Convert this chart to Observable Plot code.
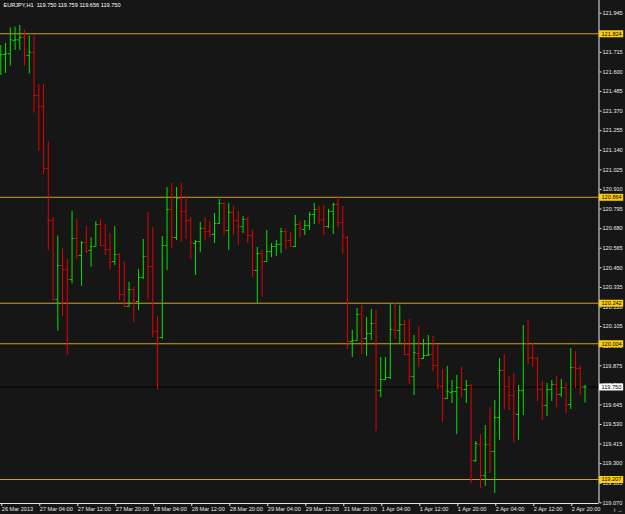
<!DOCTYPE html>
<html>
<head>
<meta charset="utf-8">
<script src="https://cdn.jsdelivr.net/npm/d3@7"></script>
<script src="https://cdn.jsdelivr.net/npm/@observablehq/plot@0.6"></script>
<style>
  html, body { margin: 0; padding: 0; background: #161616; }
  #chart { width: 625px; height: 514px; }
</style>
</head>
<body>
<div id="chart"></div>
<script>
const headerText = "EURJPY,H1  119.750 119.759 119.656 119.750";

const opens = [121.697,121.702,121.707,121.785,121.788,121.802,121.697,121.714,121.462,121.397,
121.033,120.728,120.264,120.463,120.440,120.381,120.622,120.522,120.598,120.552,
120.575,120.704,120.581,120.557,120.487,120.528,120.293,120.223,120.322,120.252,
120.393,120.516,120.457,120.076,120.041,120.581,120.792,120.628,120.857,120.781,
120.728,120.593,120.604,120.681,120.663,120.646,120.710,120.828,120.669,120.775,
120.728,120.692,120.734,120.640,120.434,120.534,120.487,120.546,120.575,120.587,
120.663,120.610,120.575,120.704,120.675,120.698,120.763,120.792,120.734,120.692,
120.781,120.822,120.716,120.628,120.017,120.023,120.176,120.035,120.064,120.123,
119.729,119.794,119.806,120.088,120.082,120.117,119.941,119.812,119.947,119.917,
119.935,119.941,119.876,119.753,119.682,119.718,119.724,119.747,119.735,119.759,
119.318,119.412,119.230,119.412,119.371,119.571,119.847,119.753,119.700,119.589,
119.729,120.005,119.923,119.917,119.735,119.641,119.735,119.765,119.706,119.747,
119.647,119.865,119.859,119.750];

const highs = [121.755,121.767,121.859,121.863,121.873,121.843,121.810,121.810,121.526,121.526,
121.187,120.745,120.636,120.562,120.499,120.782,120.734,120.604,120.694,120.626,
120.720,120.732,120.704,120.650,120.692,120.534,120.481,120.364,120.334,120.440,
120.616,120.775,120.687,120.164,120.634,120.921,120.945,120.921,120.945,120.869,
120.745,120.610,120.716,120.745,120.722,120.769,120.851,120.833,120.828,120.810,
120.781,120.751,120.745,120.669,120.569,120.552,120.669,120.593,120.610,120.681,
120.675,120.657,120.757,120.722,120.728,120.775,120.828,120.810,120.816,120.792,
120.828,120.869,120.810,120.634,120.082,120.211,120.229,120.158,120.205,120.199,
119.923,119.923,120.240,120.240,120.229,120.140,120.146,120.052,120.105,120.029,
120.052,120.047,119.994,119.853,119.870,119.788,119.818,119.865,119.788,119.765,
119.430,119.471,119.524,119.630,119.671,119.917,119.941,119.812,119.829,119.759,
120.111,120.140,120.005,119.923,119.782,119.771,119.788,119.812,119.794,119.771,
119.976,119.958,119.870,119.759];

const lows = [121.579,121.591,121.634,121.726,121.726,121.634,121.589,121.358,121.135,120.996,
120.552,120.258,120.078,120.166,119.937,120.356,120.499,120.342,120.532,120.453,
120.572,120.577,120.522,120.438,120.463,120.258,120.217,120.217,120.129,120.199,
120.381,120.264,120.041,119.735,120.029,120.434,120.563,120.610,120.598,120.616,
120.499,120.405,120.540,120.610,120.628,120.593,120.704,120.640,120.552,120.640,
120.581,120.651,120.593,120.393,120.240,120.276,120.481,120.510,120.516,120.534,
120.557,120.569,120.569,120.628,120.640,120.669,120.704,120.704,120.640,120.681,
120.646,120.687,120.528,119.970,119.923,120.017,119.941,119.929,120.023,119.489,
119.688,119.788,119.794,120.029,119.999,119.935,119.765,119.700,119.865,119.912,
119.929,119.841,119.735,119.542,119.677,119.653,119.471,119.688,119.653,119.183,
119.307,119.154,119.166,119.242,119.125,119.436,119.618,119.612,119.424,119.436,
119.583,119.882,119.865,119.665,119.553,119.577,119.665,119.630,119.688,119.594,
119.618,119.741,119.700,119.656];

const closes = [121.702,121.708,121.789,121.789,121.802,121.697,121.716,121.462,121.397,121.033,
120.728,120.264,120.463,120.440,120.381,120.622,120.522,120.598,120.546,120.575,
120.704,120.581,120.557,120.481,120.528,120.293,120.223,120.322,120.258,120.393,
120.516,120.457,120.076,120.041,120.581,120.792,120.628,120.857,120.781,120.728,
120.598,120.604,120.681,120.663,120.646,120.710,120.828,120.669,120.775,120.728,
120.692,120.734,120.640,120.434,120.534,120.487,120.546,120.575,120.587,120.663,
120.610,120.575,120.704,120.681,120.698,120.763,120.792,120.728,120.692,120.781,
120.822,120.716,120.640,120.017,120.023,120.176,120.035,120.064,120.123,119.729,
119.794,119.806,120.088,120.082,120.117,119.941,119.812,119.953,119.917,119.935,
119.941,119.876,119.753,119.682,119.724,119.724,119.747,119.735,119.759,119.318,
119.418,119.230,119.412,119.371,119.571,119.847,119.753,119.700,119.594,119.729,
120.005,119.917,119.917,119.735,119.641,119.735,119.765,119.706,119.747,119.647,
119.865,119.859,119.750,119.750];

const levels = [121.824, 120.864, 120.242, 120.004, 119.207];
const currentPrice = [119.750];

const yTicks = [121.945,121.830,121.715,121.600,121.485,121.370,121.255,121.140,121.025,120.910,
120.795,120.680,120.565,120.450,120.335,120.220,120.105,119.990,119.875,119.760,
119.645,119.530,119.415,119.300,119.185,119.070];

const xTicks = [0,8,16,24,32,40,48,56,64,72,80,88,96,104,112,120];
const xLabels = ["26 Mar 2013","27 Mar 04:00","27 Mar 12:00","27 Mar 20:00","28 Mar 04:00",
"28 Mar 12:00","28 Mar 20:00","29 Mar 04:00","29 Mar 12:00","31 Mar 20:00","1 Apr 04:00",
"1 Apr 12:00","1 Apr 20:00","2 Apr 04:00","2 Apr 12:00","2 Apr 20:00"];

const xDomain = [-0.063, 125.94];
const yDomain = [119.066, 122.0195];

const UP = "#00e400", DOWN = "#e60000", LEVEL = "#cfa321";
const bars = opens.map((o, i) => ({i, o, h: highs[i], l: lows[i], c: closes[i], up: closes[i] >= o}));
const upBars = bars.filter(d => d.up), downBars = bars.filter(d => !d.up);
const T = 0.42;

function barMarks(data, color) {
  return [
    Plot.ruleX(data, {x: "i", y1: "l", y2: "h", stroke: color, strokeWidth: 1}),
    Plot.ruleY(data, {y: "o", x1: d => d.i - T, x2: "i", stroke: color, strokeWidth: 1}),
    Plot.ruleY(data, {y: "c", x1: "i", x2: d => d.i + T, stroke: color, strokeWidth: 1})
  ];
}

const FONT = 5.6;
const chart = Plot.plot({
  width: 625, height: 514,
  marginLeft: 0, marginRight: 26.5, marginTop: 0, marginBottom: 11,
  style: {background: "#161616", color: "#ffffff", fontFamily: "'Liberation Sans', Arial, sans-serif"},
  x: {domain: xDomain},
  y: {domain: yDomain},
  marks: [
    Plot.ruleY(levels, {y: d => d, stroke: LEVEL, strokeWidth: 1}),
    Plot.ruleY(currentPrice, {y: d => d, stroke: "#000000", strokeWidth: 1}),
    ...barMarks(upBars, UP),
    ...barMarks(downBars, DOWN),
    Plot.ruleX([xDomain[1]], {stroke: "#e8e8e8", strokeWidth: 1}),
    Plot.ruleY([yDomain[0]], {stroke: "#e8e8e8", strokeWidth: 1}),
    Plot.axisY(yTicks, {anchor: "right", tickSize: 2, tickPadding: 1.5, fontSize: FONT,
      color: "#e8e8e8", tickFormat: d => d.toFixed(3)}),
    Plot.axisX(xTicks, {anchor: "bottom", tickSize: 3, tickPadding: 0.5, fontSize: FONT,
      color: "#e8e8e8", textAnchor: "start", dx: 1,
      tickFormat: d => xLabels[xTicks.indexOf(d)]}),
    Plot.ruleY(levels, {y: d => d, x1: xDomain[1] + 0.1, x2: xDomain[1] + 5.2, stroke: "#ffd000", strokeWidth: 7}),
    Plot.text(levels, {y: d => d, x: xDomain[1], dx: 2.5, text: d => d.toFixed(3), textAnchor: "start",
      fill: "#000000", fontSize: FONT}),
    Plot.ruleY(currentPrice, {y: d => d, x1: xDomain[1] + 0.1, x2: xDomain[1] + 5.2, stroke: "#ffffff", strokeWidth: 7}),
    Plot.text(currentPrice, {y: d => d, x: xDomain[1], dx: 2.5, text: d => d.toFixed(3), textAnchor: "start",
      fill: "#000000", fontSize: FONT}),
    Plot.text([headerText], {frameAnchor: "top-left", dx: 3, dy: 2.5, lineAnchor: "top",
      text: d => d, fill: "#ffffff", fontSize: FONT})
  ]
});
document.getElementById("chart").appendChild(chart);
</script>
</body>
</html>
